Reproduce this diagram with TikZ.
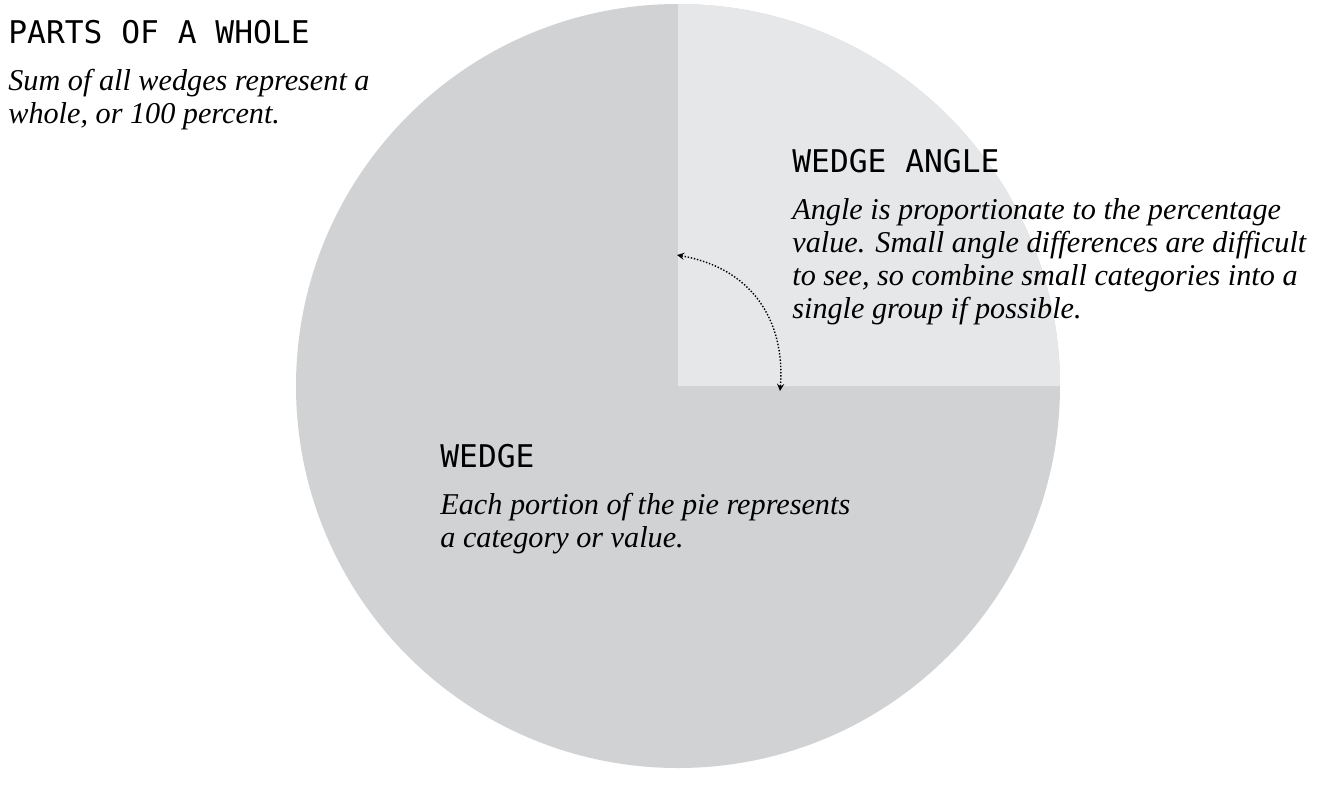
\documentclass[tikz,border=0pt]{standalone}
\usepackage{fontspec}
\setmainfont{Liberation Serif}
\setmonofont{DejaVu Sans Mono}
\usetikzlibrary{positioning}
\definecolor{piedark}{HTML}{D1D2D4}
\definecolor{pielight}{HTML}{E6E7E8}
\tikzset{
  title/.style={anchor=north west, inner sep=0pt, font=\ttfamily\fontsize{17.8}{21}\selectfont},
  note/.style={anchor=north west, inner sep=0pt, align=left, font=\itshape\fontsize{17.2}{18.8}\selectfont}
}
\begin{document}
\begin{tikzpicture}[x=0.02cm,y=-0.02cm]
        \useasboundingbox (0,0) rectangle (1341,792);
        % Pie
        \coordinate (o) at (678,386);
        \fill[piedark] (o) circle (382);
        \fill[pielight] (o) -- (1060,386) arc[start angle=0,end angle=-90,radius=382] -- cycle;

        % Texts
        \node[title] (whole) at (8,20) {PARTS OF A WHOLE};
        \node[note, below=14pt of whole.south west, anchor=north west] (wholetxt) {Sum of all wedges represent a\\whole, or 100 percent.};
        \node[title] (angle) at (792,149) {WEDGE ANGLE};
        \node[note, below=14pt of angle.south west, anchor=north west] (angletxt) {Angle is proportionate to the percentage\\value. Small angle differences are difficult\\to see, so combine small categories into a\\single group if possible.};
        \node[title] (wedge) at (440,444) {WEDGE};
        \node[note, below=14pt of wedge.south west, anchor=north west] (wedgetxt) {Each portion of the pie represents\\a category or value.};

        % Arrow
        \coordinate (a1) at (677,255);
        \coordinate (a2) at (780,391);
        \draw[densely dotted, thick, <->, >=stealth] (a1) .. controls (760,270) and (785,330) .. (a2);
\end{tikzpicture}
\end{document}
